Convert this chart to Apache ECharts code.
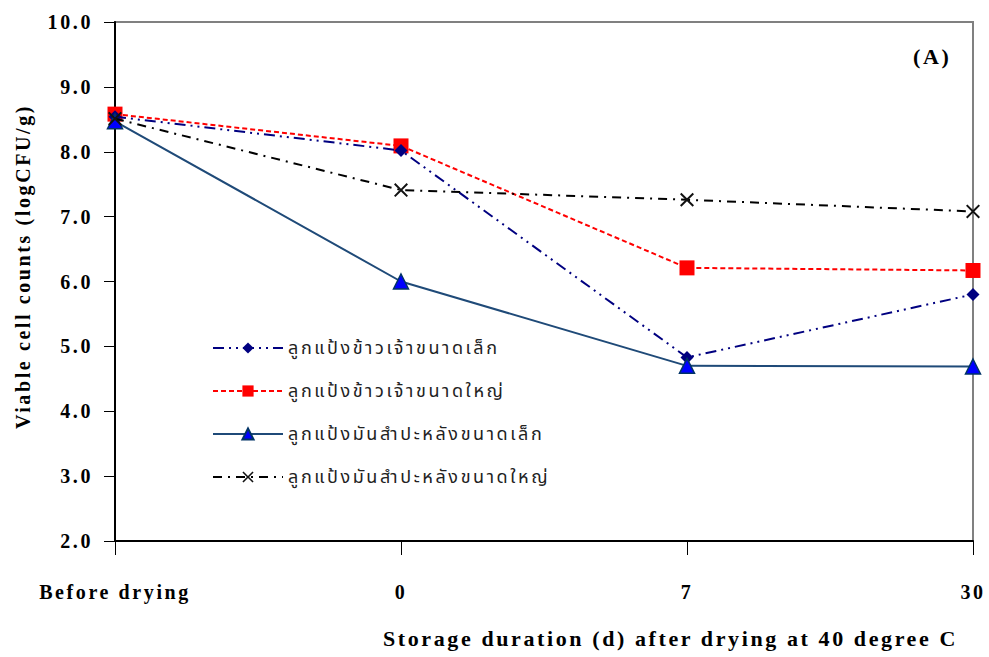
<!DOCTYPE html>
<html lang="th">
<head>
<meta charset="UTF-8">
<title>Viable cell counts</title>
<style>
  html, body { margin: 0; height: 100%; background: #ffffff; }
  #chart { width: 989px; height: 657px; }
  /* the original figure uses wide letter spacing everywhere */
  #chart svg text { letter-spacing: 2.6px; }
</style>
</head>
<body>
<div id="chart"></div>
<script src="https://cdn.jsdelivr.net/npm/echarts@6/dist/echarts.min.js"></script>
<script>
// storage duration categories
var categories = ['Before drying', '0', '7', '30'];

// log CFU/g
var riceSmall = [8.54, 8.02, 4.83, 5.80];
var riceLarge = [8.58, 8.09, 6.21, 6.17];
var cassavaSmall = [8.47, 6.00, 4.70, 4.69];
var cassavaLarge = [8.51, 7.41, 7.26, 7.08];

var names = [
    'ลูกแป้งข้าวเจ้าขนาดเล็ก',
    'ลูกแป้งข้าวเจ้าขนาดใหญ่',
    'ลูกแป้งมันสำปะหลังขนาดเล็ก',
    'ลูกแป้งมันสำปะหลังขนาดใหญ่'
];

var serif = '"Liberation Serif", "Times New Roman", serif';
var thai = '"Noto Sans Thai", "Noto Sans", "DejaVu Sans", sans-serif';
var cross = 'path://M0,1 L1,0 L5,4 L9,0 L10,1 L6,5 L10,9 L9,10 L5,6 L1,10 L0,9 L4,5 Z';

var chart = echarts.init(document.getElementById('chart'), null, { renderer: 'svg' });
var option = {
    animation: false,
    title: [
        {
            text: 'Storage duration (d) after drying at 40 degree C',
            left: 378, top: 622,
            textStyle: { fontFamily: serif, fontWeight: 'bold', fontSize: 22, color: '#000' }
        },
        {
            text: '(A)',
            left: 908, top: 40,
            textStyle: { fontFamily: serif, fontWeight: 'bold', fontSize: 22, color: '#000' }
        }
    ],
    grid: {
        left: 115, right: 16, top: 22, bottom: 116,
        show: true, borderColor: '#808080', borderWidth: 2
    },
    legend: {
        orient: 'vertical',
        left: 207, top: 334,
        itemWidth: 70, itemHeight: 14, itemGap: 25,
        textStyle: { fontFamily: thai, fontSize: 18, color: '#222' },
        data: names
    },
    xAxis: {
        type: 'category',
        data: categories,
        boundaryGap: false,
        axisLine: { lineStyle: { color: '#000', width: 2 } },
        axisTick: { alignWithLabel: true, length: 14, lineStyle: { color: '#000', width: 1 } },
        axisLabel: {
            margin: 41,
            fontFamily: serif, fontWeight: 'bold', fontSize: 20, color: '#000'
        },
        splitLine: { show: false }
    },
    yAxis: {
        type: 'value',
        min: 2, max: 10, interval: 1,
        name: 'Viable cell counts (logCFU/g)',
        nameLocation: 'middle',
        nameGap: 82,
        nameTextStyle: { fontFamily: serif, fontWeight: 'bold', fontSize: 20, color: '#000', padding: [0, 0, 0, 30] },
        axisLine: { show: true, lineStyle: { color: '#000', width: 2 } },
        axisTick: { show: true, length: 11, lineStyle: { color: '#000', width: 1 } },
        axisLabel: {
            margin: 22,
            fontFamily: serif, fontWeight: 'bold', fontSize: 20, color: '#000',
            formatter: function (v) { return v.toFixed(1); }
        },
        splitLine: { show: false }
    },
    series: [
        {
            name: names[0], type: 'line', data: riceSmall,
            symbol: 'diamond', symbolSize: 13,
            itemStyle: { color: '#000080' },
            lineStyle: { color: '#000080', width: 2, type: [11, 5, 2, 5, 2, 5] },
            z: 4
        },
        {
            name: names[1], type: 'line', data: riceLarge,
            symbol: 'rect', symbolSize: 15,
            itemStyle: { color: '#ff0000' },
            lineStyle: { color: '#ff0000', width: 2, type: [5, 3] },
            z: 3
        },
        {
            name: names[2], type: 'line', data: cassavaSmall,
            symbol: 'triangle', symbolSize: 15,
            itemStyle: { color: '#0000ff', borderColor: '#003366', borderWidth: 1.5 },
            lineStyle: { color: '#1f4a78', width: 2 },
            z: 5
        },
        {
            name: names[3], type: 'line', data: cassavaLarge,
            symbol: cross, symbolSize: 14,
            itemStyle: { color: '#111' },
            lineStyle: { color: '#000', width: 2, type: [9, 6, 2, 6] },
            z: 6
        }
    ]
};
chart.setOption(option);
</script>
</body>
</html>
